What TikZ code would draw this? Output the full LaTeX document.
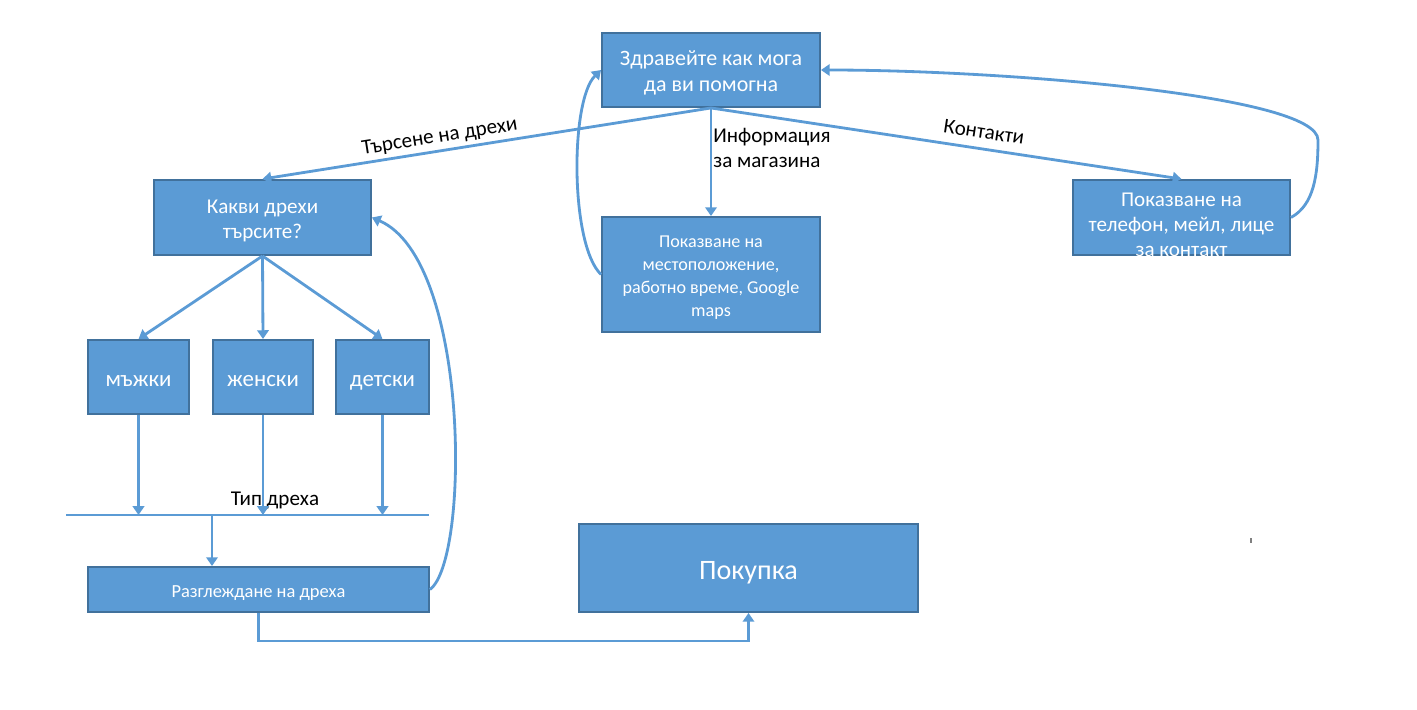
\documentclass[tikz,border=0pt]{standalone}
\usepackage{fontspec}
\setmainfont{Carlito}
\usepackage{tikz}
\usetikzlibrary{arrows.meta,positioning,calc}
\definecolor{boxFill}{RGB}{91,155,213}
\definecolor{boxEdge}{RGB}{65,113,156}
\definecolor{flowLine}{RGB}{91,155,213}
\newcommand{\topgap}{\rule{0pt}{1.1em}}

\begin{document}
\begin{tikzpicture}[x=0.02cm, y=-0.02cm,
    box/.style={draw=boxEdge, fill=boxFill, text=white, line width=1.1pt, align=center, inner sep=0pt,
      font=\fontsize{12}{14.5}\selectfont,
      execute at begin node={\rule[-0.3em]{0pt}{1.45em}},
      execute at end node={\rule[-0.3em]{0pt}{1.2em}}},
    flow/.style={draw=flowLine, line width=1.6pt, -{Triangle[length=5pt,width=6.5pt]}},
    lbl/.style={text=black, font=\fontsize{12}{14}\selectfont, inner sep=1pt}]
  \useasboundingbox (0,0) rectangle (1417,710);
  % Boxes
  \node[box, minimum width=4.36cm, minimum height=1.48cm, font=\fontsize{12.5}{14.7}\selectfont]
    (greet) at (711,70) {\topgap Здравейте как мога\\да ви помогна};
  \node[box, minimum width=4.36cm, minimum height=2.3cm, font=\fontsize{10.3}{13}\selectfont]
    (info) at (711,274.5) {\topgap Показване на\\местоположение,\\работно време, Google\\maps};
  \node[box, minimum width=4.34cm, minimum height=1.5cm, font=\fontsize{12}{14.4}\selectfont,
      execute at begin node={}, execute at end node={}]
    (contact) at (1181.5,217.5)
    {\raisebox{-3pt}[0pt][0pt]{\begin{tabular}{@{}c@{}}Показване на\\телефон, мейл, лице\\за контакт\end{tabular}}};
  \node[box, minimum width=4.34cm, minimum height=1.5cm]
    (what) at (262.5,217.5) {\topgap Какви дрехи\\търсите?};
  \node[box, minimum width=2.02cm, minimum height=1.48cm, font=\fontsize{13}{16}\selectfont]
    (men) at (138.5,377) {мъжки};
  \node[box, minimum width=2.0cm, minimum height=1.48cm, font=\fontsize{13}{16}\selectfont]
    (women) at (263,377) {женски};
  \node[box, minimum width=1.86cm, minimum height=1.48cm, font=\fontsize{13}{16}\selectfont]
    (kids) at (382.5,377) {детски};
  \node[box, minimum width=6.82cm, minimum height=0.9cm, font=\fontsize{10.5}{13}\selectfont]
    (view) at (258.5,589.5) {Разглеждане на дреха};
  \node[box, minimum width=6.78cm, minimum height=1.76cm, font=\fontsize{16}{19}\selectfont]
    (buy) at (748.5,568) {Покупка};
  % Arrows from the greeting
  \draw[flow] (greet.south) -- (what.north)
    node[lbl, pos=0.6, above=1pt, sloped] (searchlbl) {Търсене на дрехи};
  \draw[flow] (greet.south) -- (info.north);
  \draw[flow] (greet.south) -- (contact.north)
    node[lbl, pos=0.575, above=4pt, sloped] (contactlbl) {Контакти};
  \node[lbl, align=left, anchor=west, inner sep=0pt] (infolbl) at (713,148) {Информация\\за магазина};
  % Back to the greeting
  \draw[flow] (info.west) .. controls (570,245) and (570,100) .. (greet.west);
  \draw[flow] (contact.east) .. controls (1314,205) and (1318,175) .. (1318,140)
    .. controls (1318,95) and (1000,70) .. (greet.east);
  % Clothes types
  \draw[flow] (what.south) -- (men.north);
  \draw[flow] (what.south) -- (women.north);
  \draw[flow] (what.south) -- (kids.north);
  \coordinate (barL) at (66,515);
  \coordinate (barR) at (429,515);
  \coordinate (tap) at (212,515);
  \draw[draw=flowLine, line width=1.6pt] (barL) -- (barR);
  \node[lbl] (typelbl) at (275,500) {Тип дреха};
  \draw[flow] (men.south) -- (men.south |- barL);
  \draw[flow] (women.south) -- (women.south |- barL);
  \draw[flow] (kids.south) -- (kids.south |- barL);
  \draw[flow] (tap) -- (tap |- view.north);
  % View and buy
  \draw[flow] (view.east) .. controls (470,560) and (470,260) .. (what.east);
  \draw[flow] (view.south) -- ++(0,28) -| (buy.south);
  % stray mark
  \draw[gray, line width=0.6pt] (1251,538) -- (1251,543);
\end{tikzpicture}
\end{document}
